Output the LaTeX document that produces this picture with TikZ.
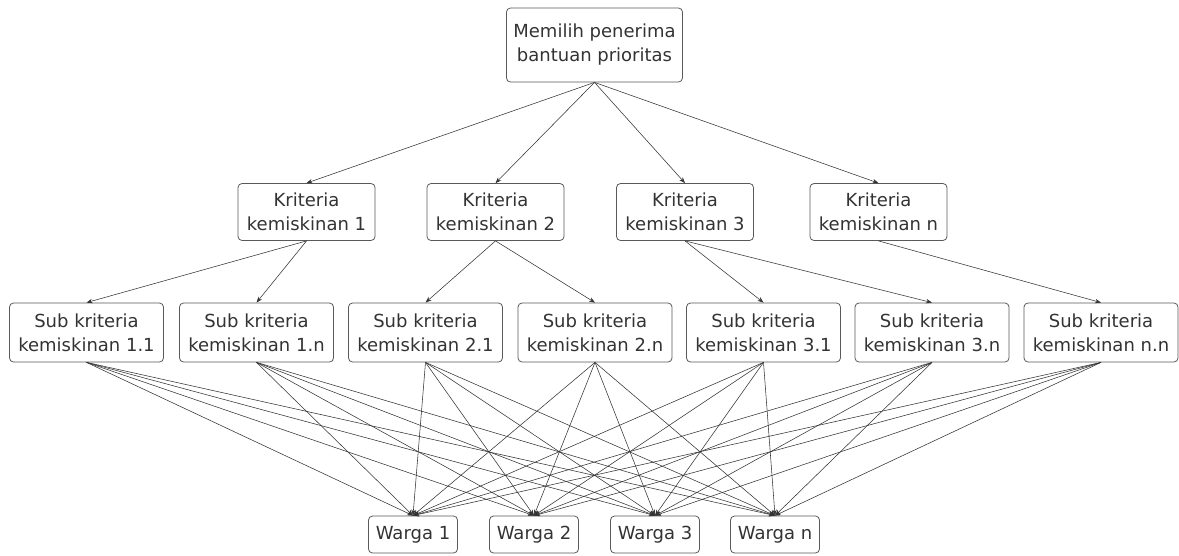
\documentclass[tikz,border=0pt]{standalone}
\usepackage{fontspec}
\setmainfont{DejaVu Sans}
\usetikzlibrary{arrows.meta}
\begin{document}
\begin{tikzpicture}[x=1pt,y=-1pt,
  box/.style={draw=black!65, rounded corners=4pt, line width=0.8pt, align=center, inner sep=0pt, font=\fontsize{18}{24}\selectfont, text=black!80},
  topbox/.style={box, minimum width=176pt, minimum height=74pt},
  kbox/.style={box, minimum width=137pt, minimum height=57pt},
  sbox/.style={box, minimum width=154pt, minimum height=59pt},
  wbox/.style={box, minimum width=89pt, minimum height=37pt},
  conn/.style={draw=black!80, line width=0.55pt, -{Stealth[length=6pt,width=4.5pt]}}]
\useasboundingbox (0,0) rectangle (1179,555);
\node[topbox] (top) at (594.5,45) {Memilih penerima\\bantuan prioritas};
\node[kbox] (k1) at (306.5,212) {Kriteria\\kemiskinan 1};
\node[kbox] (k2) at (495.5,212) {Kriteria\\kemiskinan 2};
\node[kbox] (k3) at (685,212) {Kriteria\\kemiskinan 3};
\node[kbox] (kn) at (878.5,212) {Kriteria\\kemiskinan n};
\node[sbox] (s1) at (86.5,332.5) {Sub kriteria\\kemiskinan 1.1};
\node[sbox] (s2) at (256.5,332.5) {Sub kriteria\\kemiskinan 1.n};
\node[sbox] (s3) at (425.5,332.5) {Sub kriteria\\kemiskinan 2.1};
\node[sbox] (s4) at (595,332.5) {Sub kriteria\\kemiskinan 2.n};
\node[sbox] (s5) at (763.5,332.5) {Sub kriteria\\kemiskinan 3.1};
\node[sbox] (s6) at (932,332.5) {Sub kriteria\\kemiskinan 3.n};
\node[sbox] (s7) at (1101,332.5) {Sub kriteria\\kemiskinan n.n};
\node[wbox] (w1) at (413,534.5) {Warga 1};
\node[wbox] (w2) at (534,534.5) {Warga 2};
\node[wbox] (w3) at (655,534.5) {Warga 3};
\node[wbox] (w4) at (775,534.5) {Warga n};
\foreach \k in {k1,k2,k3,kn} \draw[conn] (top.south) -- (\k.north);
\draw[conn] (k1.south) -- (s1.north);
\draw[conn] (k1.south) -- (s2.north);
\draw[conn] (k2.south) -- (s3.north);
\draw[conn] (k2.south) -- (s4.north);
\draw[conn] (k3.south) -- (s5.north);
\draw[conn] (k3.south) -- (s6.north);
\draw[conn] (kn.south) -- (s7.north);
\foreach \s in {s1,s2,s3,s4,s5,s6,s7}
  \foreach \w in {w1,w2,w3,w4}
    \draw[conn] (\s.south) -- (\w.north);
\end{tikzpicture}
\end{document}
